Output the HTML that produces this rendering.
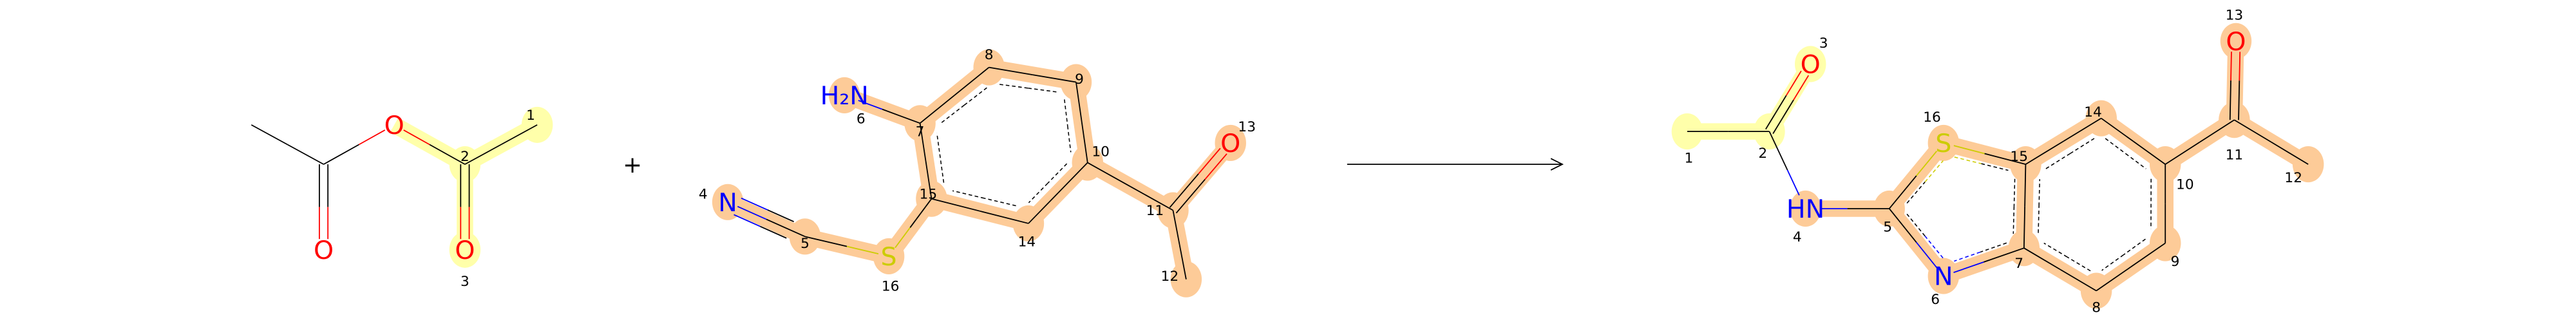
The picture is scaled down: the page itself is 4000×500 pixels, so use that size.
<!DOCTYPE html>
<html><head><meta charset="utf-8"><style>
html,body{margin:0;padding:0;background:#fff;width:4000px;height:500px;overflow:hidden}
svg{display:block}
text{font-family:"DejaVu Sans","Liberation Sans",sans-serif}
</style></head><body>
<svg id="rx" width="4000" height="500" viewBox="0 0 1568 196" preserveAspectRatio="none" xmlns="http://www.w3.org/2000/svg">
<g id="hl"></g>
<g id="bd"></g>
<g id="lb"></g>
<text x="385" y="105" font-size="14" text-anchor="middle" fill="#000">+</text>
<line x1="820" y1="100" x2="950" y2="100" stroke="#000" stroke-width="0.7"/>
<polyline points="944,96.5 951,100 944,103.5" fill="none" stroke="#000" stroke-width="0.7"/>
</svg>
<script>
const NS="http://www.w3.org/2000/svg";
const Y="#ffffaa",OR="#fdcb98";
const RED="#ff0000",BLU="#0000ff",SUL="#cccc00",BLK="#000";
const m1Atoms=[
[1,327,76,"",BLK,"1",323,70,Y],[2,283,100,"",BLK,"2",283,95,Y],[3,283,152,"O",RED,"3",283,171,Y],
["a",197,100,"",BLK,"",0,0,""],["b",153,76,"",BLK,"",0,0,""],["c",197,152,"O",RED,"",0,0,""],["d",240,76,"O",RED,"",0,0,""]];
const m1Bonds=[["b","a",1,""],["a","c",2,""],["a","d",1,""],["d",2,1,Y],[2,1,1,Y],[2,3,2,Y]];
const m2Atoms=[
[4,443,123,"N",BLU,"4",428,118,OR],[5,490,144,"",BLK,"5",490,148,OR],[16,541,156,"S",SUL,"16",542,174,OR],
[15,567,121,"",BLK,"15",565,118,OR],[7,560,75,"",BLK,"7",560,80,OR],[6,514,58,"H₂N",BLU,"6",524,72,OR],
[8,602,41,"",BLK,"8",602,33,OR],[9,655,50,"",BLK,"9",657,48,OR],[10,662,99,"",BLK,"10",670,92,OR],
[14,626,136,"",BLK,"14",625,147,OR],[11,714,128,"",BLK,"11",703,128,OR],[13,749,87,"O",RED,"13",759,77,OR],[12,722,170,"",BLK,"12",712,168,OR]];
const m2Bonds=[[4,5,3,OR],[5,16,1,OR],[16,15,1,OR],[15,7,1,OR],[7,6,1,OR],[7,8,1,OR],[8,9,1,OR],[9,10,1,OR],[10,14,1,OR],[14,15,1,OR],[10,11,1,OR],[11,13,2,OR],[11,12,1,OR]];
const m2Rings=[[7,8,9,10,14,15]];
const m3Atoms=[
[1,1027,80,"",BLK,"1",1028,96,Y],[2,1077,80,"",BLK,"2",1073,93,Y],[3,1102,39,"O",RED,"3",1110,26,Y],
[4,1099,127,"HN",BLU,"4",1094,144,OR],[5,1150,127,"",BLK,"5",1149,138,OR],[16,1183,87,"S",SUL,"16",1176,71,OR],
[15,1233,100,"",BLK,"15",1229,95,OR],[7,1232,151,"",BLK,"7",1229,160,OR],[6,1183,168,"N",BLU,"6",1178,182,OR],
[14,1279,72,"",BLK,"14",1274,68,OR],[10,1318,100,"",BLK,"10",1330,112,OR],[9,1318,148,"",BLK,"9",1324,159,OR],
[8,1276,177,"",BLK,"8",1276,187,OR],[11,1360,73,"",BLK,"11",1360,94,OR],[13,1361,25,"O",RED,"13",1360,9,OR],[12,1405,100,"",BLK,"12",1396,108,OR]];
const m3Bonds=[[1,2,1,Y],[2,3,2,Y],[2,4,1,""],[4,5,1,OR],[5,16,1,OR],[16,15,1,OR],[5,6,1,OR],[6,7,1,OR],[7,15,1,OR],[15,14,1,OR],[14,10,1,OR],[10,9,1,OR],[9,8,1,OR],[8,7,1,OR],[10,11,1,OR],[11,13,2,OR],[11,12,1,OR]];
const m3Rings=[[5,16,15,7,6],[15,14,10,9,8,7]];

const hl=document.getElementById('hl'),bd=document.getElementById('bd'),lb=document.getElementById('lb');
function ln(g,x1,y1,x2,y2,c,w,dash){const l=document.createElementNS(NS,'line');


l.setAttribute('x1',x1);l.setAttribute('y1',y1);l.setAttribute('x2',x2);l.setAttribute('y2',y2);
l.setAttribute('stroke',c);l.setAttribute('stroke-width',w);if(dash)l.setAttribute('stroke-dasharray',dash);
g.appendChild(l);}
function draw(atoms,bonds,rings){
const A={};atoms.forEach(a=>A[a[0]]={x:a[1],y:a[2],l:a[3],c:a[4]});
bonds.forEach(b=>{if(b[3]){const p=A[b[0]],q=A[b[1]];ln(hl,p.x,p.y,q.x,q.y,b[3],10);}});
atoms.forEach(a=>{if(a[8]){const c=document.createElementNS(NS,'ellipse');


c.setAttribute('cx',a[1]);c.setAttribute('cy',a[2]);c.setAttribute('rx',9.5);c.setAttribute('ry',11);c.setAttribute('fill',a[8]);hl.appendChild(c);}});
bonds.forEach(b=>{const p=A[b[0]],q=A[b[1]];let dx=q.x-p.x,dy=q.y-p.y,L=Math.hypot(dx,dy),ux=dx/L,uy=dy/L;
const t1=p.l?(p.l.length>1?9:6.5):0,t2=q.l?(q.l.length>1?9:6.5):0;
const x1=p.x+ux*t1,y1=p.y+uy*t1,x2=q.x-ux*t2,y2=q.y-uy*t2,mx=(p.x+q.x)/2,my=(p.y+q.y)/2;
const offs=b[2]==2?[-2.6,2.6]:[0];
offs.forEach(o=>{const nx=-uy*o,ny=ux*o;ln(bd,x1+nx,y1+ny,mx+nx,my+ny,p.c,0.7);ln(bd,mx+nx,my+ny,x2+nx,y2+ny,q.c,0.7);});
if(b[2]==3){[-5.5,5.5].forEach(o=>{const nx=-uy*o,ny=ux*o;const sx=x1+nx,sy=y1+ny,ex=x1+ux*(L-t1)*0.78+nx,ey=y1+uy*(L-t1)*0.78+ny;
const hx=(sx+ex)/2,hy=(sy+ey)/2;ln(bd,sx,sy,hx,hy,p.c,0.7);ln(bd,hx,hy,ex,ey,q.c,0.7);});}
});
(rings||[]).forEach(r=>{let cx=0,cy=0;r.forEach(i=>{cx+=A[i].x;cy+=A[i].y});cx/=r.length;cy/=r.length;
const ins=r.length==6?10:8;
for(let i=0;i<r.length;i++){const p=A[r[i]],q=A[r[(i+1)%r.length]];
const ip=(P)=>{const d=Math.hypot(P.x-cx,P.y-cy),k=(d-ins)/d;return[cx+(P.x-cx)*k,cy+(P.y-cy)*k]};
let [ax,ay]=ip(p),[bx,by]=ip(q);const sx=ax+(bx-ax)*0.1,sy=ay+(by-ay)*0.1,ex=ax+(bx-ax)*0.9,ey=ay+(by-ay)*0.9;
const mx=(sx+ex)/2,my=(sy+ey)/2;
ln(bd,sx,sy,mx,my,p.c==SUL?SUL:(p.c==BLU?BLU:BLK),0.6,"2.2,1.6");ln(bd,mx,my,ex,ey,q.c==SUL?SUL:(q.c==BLU?BLU:BLK),0.6,"2.2,1.6");}});
atoms.forEach(a=>{if(a[3]){const t=document.createElementNS(NS,'text');


t.setAttribute('x',a[1]);t.setAttribute('y',a[2]+5.5);t.setAttribute('font-size',15.5);t.setAttribute('text-anchor','middle');t.setAttribute('fill',a[4]);t.textContent=a[3];lb.appendChild(t);}
if(a[5]){const t=document.createElementNS(NS,'text');


t.setAttribute('x',a[6]);t.setAttribute('y',a[7]+3);t.setAttribute('font-size',8.5);t.setAttribute('text-anchor','middle');t.setAttribute('fill','#000');t.textContent=a[5];lb.appendChild(t);}});
}
draw(m1Atoms,m1Bonds,null);draw(m2Atoms,m2Bonds,m2Rings);draw(m3Atoms,m3Bonds,m3Rings);
</script>
</body></html>
